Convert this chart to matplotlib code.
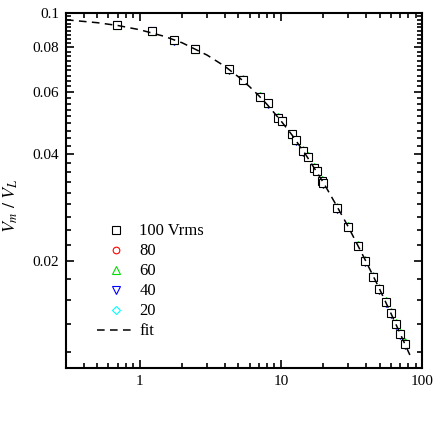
import numpy as np
import matplotlib
matplotlib.use("Agg")
import matplotlib.pyplot as plt
from matplotlib.ticker import FixedLocator, NullFormatter, FixedFormatter

plt.rcParams['font.family'] = ['Liberation Serif', 'DejaVu Serif']
plt.rcParams['mathtext.fontset'] = 'stix'

# ---- data ----
x_vals = [0.69, 1.22, 1.74, 2.45, 4.28, 5.38, 7.13, 8.09, 9.57, 10.1, 11.9, 12.9,
          14.3, 15.5, 17.1, 18.1, 19.4, 20.0, 25.1, 29.9, 35.3, 39.6, 45.2, 49.8,
          55.3, 60.3, 65.4, 70.2, 75.4]
y_100 = [0.0925, 0.0890, 0.0838, 0.0792, 0.0695, 0.0648, 0.0581, 0.0557, 0.0507,
         0.0497, 0.0455, 0.0438, 0.0409, 0.0394, 0.0367, 0.0360, 0.0337, 0.0331,
         0.0283, 0.0250, 0.0221, 0.0200, 0.0181, 0.0167, 0.0153, 0.01426, 0.0133,
         0.01245, 0.0117]
y_80 = [0.0925, 0.0890, 0.0838, 0.0792, 0.0695, 0.0648, 0.0581, 0.0557, 0.0507,
        0.0497, 0.0455, 0.0438, 0.0409, 0.0394, 0.0367, 0.0360, 0.0337, 0.0331,
        0.0283, 0.0250, 0.0221, 0.0200, 0.0181, 0.0167, 0.0153, 0.01426, 0.0133,
        0.01245, 0.0117]
y_60 = [0.0927, 0.0892, 0.0840, 0.0794, 0.0697, 0.0650, 0.0583, 0.0559, 0.0509,
        0.0499, 0.0457, 0.0440, 0.0411, 0.0396, 0.0369, 0.0362, 0.0339, 0.0333,
        0.0285, 0.0251, 0.0222, 0.0201, 0.0182, 0.0168, 0.0154, 0.01435, 0.0134,
        0.01252, 0.0118]
y_40 = [0.0923, 0.0888, 0.0836, 0.0790, 0.0693, 0.0646, 0.0579, 0.0555, 0.0505,
        0.0495, 0.0453, 0.0436, 0.0407, 0.0392, 0.0365, 0.0358, 0.0335, 0.0329,
        0.0281, 0.0249, 0.0220, 0.0199, 0.0180, 0.0166, 0.0152, 0.01418, 0.0132,
        0.01238, 0.0116]
y_20 = [0.0925, 0.0890, 0.0838, 0.0792, 0.0695, 0.0648, 0.0581, 0.0557, 0.0507,
        0.0497, 0.0455, 0.0438, 0.0409, 0.0394, 0.0367, 0.0360, 0.0337, 0.0331,
        0.0283, 0.0250, 0.0221, 0.0200, 0.0181, 0.0167, 0.0153, 0.01426, 0.0133,
        0.01245, 0.0117]

fit_x = [0.3, 0.5, 0.7, 1.0, 1.5, 2.0, 3.0, 4.0, 5.0, 6.0, 7.0, 8.0, 10.0, 12.0,
         15.0, 20.0, 25.0, 30.0, 40.0, 50.0, 60.0, 70.0, 85.0]
fit_y = [0.0957, 0.0939, 0.0922, 0.0897, 0.0859, 0.0824, 0.0761, 0.0708, 0.0661,
         0.0620, 0.0584, 0.0552, 0.0497, 0.0453, 0.0399, 0.0333, 0.0285, 0.0250,
         0.0200, 0.0167, 0.0143, 0.0125, 0.01055]

labels = ['100 Vrms', '80', '60', '40', '20']
y_ticks = [0.02, 0.04, 0.06, 0.08, 0.1]
y_tick_labels = ['0.02', '0.04', '0.06', '0.08', '0.1']
x_ticks = [1, 10, 100]
x_tick_labels = ['1', '10', '100']

fig = plt.figure(figsize=(4.36, 4.25), dpi=100)
ax = fig.add_axes([66/436, 57/425, 356/436, 355/425])

styles = [
    (y_100, 's', 'black', labels[0]),
    (y_80, 'o', 'red', labels[1]),
    (y_60, '^', '#00e000', labels[2]),
    (y_40, 'v', 'blue', labels[3]),
    (y_20, 'D', 'cyan', labels[4]),
]
sizes = {'s': 5.7, 'o': 4.8, '^': 6.1, 'v': 6.1, 'D': 4.0}
handles = []
for yv, m, c, lab in styles:
    face = 'white' if m == 's' else 'none'
    h, = ax.plot(x_vals, yv, linestyle='none', marker=m, markersize=sizes[m],
                 markerfacecolor=face, markeredgecolor=c, markeredgewidth=0.8,
                 label=lab)
    handles.append(h)
# draw order: squares on top
for i, h in enumerate(handles):
    h.set_zorder(10 - i)

hf, = ax.plot(fit_x, fit_y, color='black', linestyle=(0, (5, 3.5)), linewidth=1.1,
              label='fit', zorder=12)
handles.append(hf)

ax.set_xscale('log')
ax.set_yscale('log')
ax.set_xlim(0.3, 100)
ax.set_ylim(0.01, 0.1)

ax.xaxis.set_major_locator(FixedLocator(x_ticks))
ax.xaxis.set_major_formatter(FixedFormatter(x_tick_labels))
xminor = [m * 10.0**e for e in (-1, 0, 1) for m in range(2, 10)]
xminor = [v for v in xminor if 0.3 <= v <= 100]
ax.xaxis.set_minor_locator(FixedLocator(xminor))
ax.xaxis.set_minor_formatter(NullFormatter())

ax.yaxis.set_major_locator(FixedLocator(y_ticks))
ax.yaxis.set_major_formatter(FixedFormatter(y_tick_labels))
step = 0.02 / 9
yminor = [k * step for k in range(1, 46) if k % 9 != 0]
yminor = [v for v in yminor if 0.01 <= v <= 0.1]
ax.yaxis.set_minor_locator(FixedLocator(yminor))
ax.yaxis.set_minor_formatter(NullFormatter())

ax.tick_params(which='both', direction='in', top=True, right=True,
               labelsize=11, width=1.2)
ax.tick_params(which='major', length=6, pad=5)
ax.tick_params(which='minor', length=3.5)
for sp in ax.spines.values():
    sp.set_linewidth(1.5)

ax.set_ylabel(r'$V_m\ /\ V_L$', fontsize=13)
ax.yaxis.set_label_coords(-0.13, 0.456)

leg = ax.legend(handles=handles, loc='upper left', bbox_to_anchor=(0.068, 0.426),
                frameon=False, fontsize=12, numpoints=1, handlelength=2.3,
                handletextpad=0.25, labelspacing=0.24, borderaxespad=0)

fig.savefig('out.png', dpi=100)
